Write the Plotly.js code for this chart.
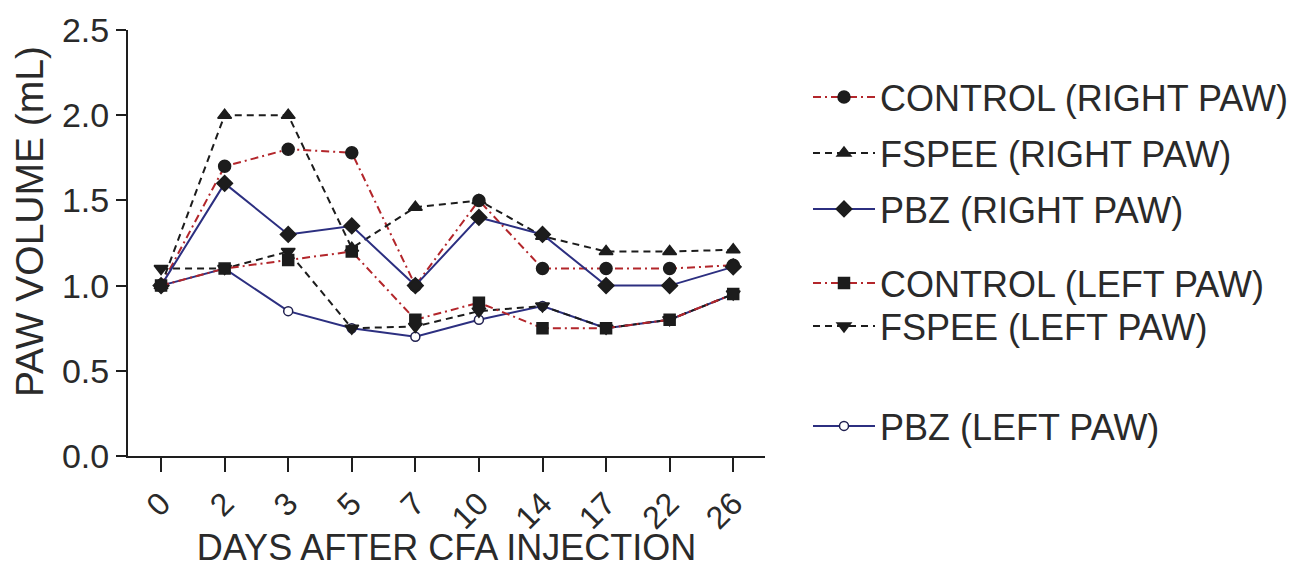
<!DOCTYPE html>
<html>
<head>
<meta charset="utf-8">
<script src="https://cdn.plot.ly/plotly-3.0.1.min.js"></script>
<style>
  html, body { margin: 0; padding: 0; background: #ffffff; }
  #chart { width: 1295px; height: 568px; }
</style>
</head>
<body>
<div id="chart"></div>
<script>
// ---- data ----
const days = ['0', '2', '3', '5', '7', '10', '14', '17', '22', '26'];
const controlRight = [1.0, 1.70, 1.80, 1.78, 1.00, 1.50, 1.10, 1.10, 1.10, 1.12];
const fspeeRight   = [1.0, 2.00, 2.00, 1.22, 1.46, 1.50, 1.29, 1.20, 1.20, 1.21];
const pbzRight     = [1.0, 1.60, 1.30, 1.35, 1.00, 1.40, 1.30, 1.00, 1.00, 1.11];
const controlLeft  = [1.0, 1.10, 1.15, 1.20, 0.80, 0.90, 0.75, 0.75, 0.80, 0.95];
const fspeeLeft    = [1.1, 1.10, 1.20, 0.75, 0.76, 0.85, 0.88, 0.75, 0.80, 0.95];
const pbzLeft      = [1.0, 1.10, 0.85, 0.75, 0.70, 0.80, 0.88, 0.75, 0.80, 0.95];
const seriesNames = ['CONTROL (RIGHT PAW)', 'FSPEE (RIGHT PAW)', 'PBZ (RIGHT PAW)',
                     'CONTROL (LEFT PAW)', 'FSPEE (LEFT PAW)', 'PBZ (LEFT PAW)'];
const yTicks = [0, 0.5, 1.0, 1.5, 2.0, 2.5];

// ---- styles ----
const RED = '#b3262b', BLACK = '#1c1c1c', NAVY = '#2c2f80';
const FONT = '"Liberation Sans", Arial, Helvetica, sans-serif';
const TXT = '#2a2a2a';

function tr(y, name, color, dash, symbol, msize, mcolor, mline, legendId) {
  return {
    x: days, y: y, name: name, type: 'scatter', mode: 'lines+markers',
    line: {color: color, width: 2, dash: dash},
    marker: {symbol: symbol, size: msize, color: mcolor, line: {color: mline, width: 1.5}},
    legend: legendId
  };
}

// drawing order: open-circle PBZ left at the bottom so the filled markers show on top
const traces = [
  tr(pbzLeft,      seriesNames[5], NAVY,  'solid',           'circle',        9,  '#ffffff', '#202050', 'legend6'),
  tr(controlRight, seriesNames[0], RED,   '8px,4px,2px,4px', 'circle',        12, BLACK, BLACK, 'legend'),
  tr(fspeeRight,   seriesNames[1], BLACK, '7px,5px',         'triangle-up',   12, BLACK, BLACK, 'legend2'),
  tr(pbzRight,     seriesNames[2], NAVY,  'solid',           'diamond',       12, BLACK, BLACK, 'legend3'),
  tr(fspeeLeft,    seriesNames[4], BLACK, '7px,5px',         'triangle-down', 12, BLACK, BLACK, 'legend5'),
  tr(controlLeft,  seriesNames[3], RED,   '8px,4px,2px,4px', 'square',        11, BLACK, BLACK, 'legend4')
];

// plot area: x 128..765 px, y 30..456 px
const L = 128, R = 765, T = 30, B = 456;
function px2x(px) { return (px - L) / (R - L); }
function py2y(py) { return (B - py) / (B - T); }
const legendCenters = [97, 153, 209, 283, 326, 426];
function leg(i) {
  return {
    x: px2x(808), xanchor: 'left', y: py2y(legendCenters[i]), yanchor: 'middle',
    bgcolor: 'rgba(0,0,0,0)', borderwidth: 0, itemwidth: 62,
    font: {family: FONT, size: 36, color: TXT}
  };
}

const layout = {
  width: 1295, height: 568,
  margin: {l: L, r: 1295 - R, t: T, b: 568 - B, pad: 0, autoexpand: false},
  paper_bgcolor: '#ffffff', plot_bgcolor: '#ffffff',
  font: {family: FONT, color: TXT},
  showlegend: true,
  legend: leg(0), legend2: leg(1), legend3: leg(2),
  legend4: leg(3), legend5: leg(4), legend6: leg(5),
  xaxis: {
    type: 'category', range: [-0.52, 9.5],
    showgrid: false, zeroline: false,
    showline: true, linecolor: '#1e1e1e', linewidth: 2,
    ticks: 'outside', ticklen: 14, tickwidth: 2, tickcolor: '#1e1e1e',
    tickangle: -45, tickfont: {family: FONT, size: 32, color: TXT},
    title: {text: 'DAYS AFTER CFA INJECTION', font: {family: FONT, size: 36, color: TXT}, standoff: 6},
    fixedrange: true
  },
  yaxis: {
    range: [0, 2.5], tickvals: yTicks, tickformat: '.1f',
    showgrid: false, zeroline: false,
    showline: true, linecolor: '#1e1e1e', linewidth: 2,
    ticks: 'outside', ticklen: 10, tickwidth: 2, tickcolor: '#1e1e1e',
    tickfont: {family: FONT, size: 34, color: TXT},
    fixedrange: true
  },
  annotations: [{
    text: 'PAW VOLUME (mL)', textangle: -90,
    xref: 'paper', yref: 'paper', x: px2x(30), y: py2y(222),
    xanchor: 'center', yanchor: 'middle', showarrow: false,
    font: {family: FONT, size: 39, color: TXT}
  }]
};

Plotly.newPlot('chart', traces, layout, {displayModeBar: false, responsive: false});
</script>
</body>
</html>
